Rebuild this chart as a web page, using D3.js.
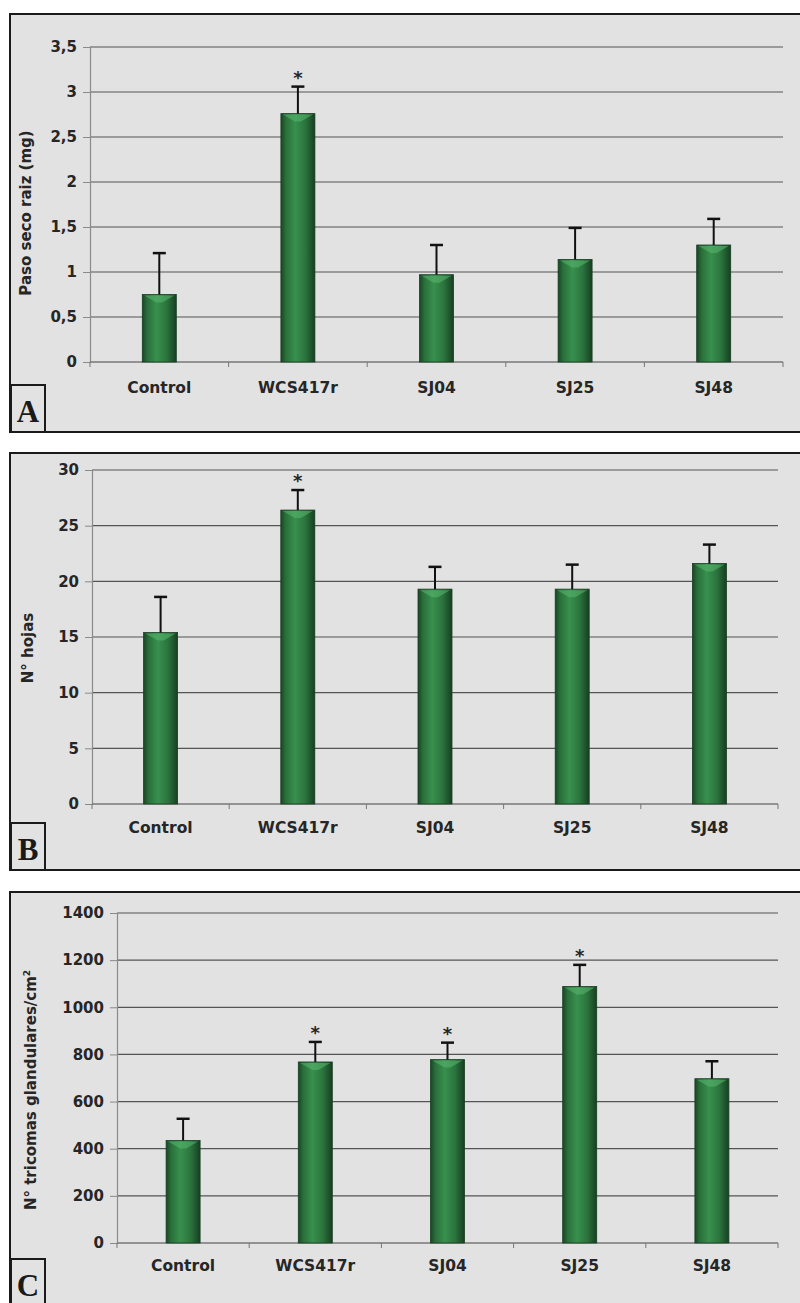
<!DOCTYPE html>
<html>
<head>
<meta charset="utf-8">
<script src="https://cdn.jsdelivr.net/npm/d3@7/dist/d3.min.js"></script>
<style>
  html, body { margin: 0; padding: 0; background: #ffffff; }
  svg { display: block; }
</style>
</head>
<body>
<svg id="fig" width="800" height="1303"></svg>
<script>
// Treatments shared by all three panels
const categories = ["Control", "WCS417r", "SJ04", "SJ25", "SJ48"];

// A: root dry weight (mg)
const rootWeight      = [0.75, 2.76, 0.97, 1.14, 1.30];
const rootWeightErr   = [0.46, 0.30, 0.33, 0.35, 0.29];
const rootWeightSig   = [false, true, false, false, false];
const rootWeightTicks = [0, 0.5, 1, 1.5, 2, 2.5, 3, 3.5];

// B: number of leaves
const leaves      = [15.4, 26.4, 19.3, 19.3, 21.6];
const leavesErr   = [3.2, 1.8, 2.0, 2.2, 1.7];
const leavesSig   = [false, true, false, false, false];
const leavesTicks = [0, 5, 10, 15, 20, 25, 30];

// C: glandular trichomes per cm²
const trichomes      = [435, 768, 778, 1088, 697];
const trichomesErr   = [92, 85, 72, 92, 74];
const trichomesSig   = [false, true, true, true, false];
const trichomesTicks = [0, 200, 400, 600, 800, 1000, 1200, 1400];

const SANS = "'DejaVu Sans', 'Liberation Sans', Arial, sans-serif";
const SERIF = "'Liberation Serif', 'DejaVu Serif', 'Times New Roman', serif";

const svg = d3.select("#fig");
const defs = svg.append("defs");

// Cylinder-like shading of the bars
const grad = defs.append("linearGradient").attr("id", "barGrad")
  .attr("x1", "0%").attr("x2", "100%").attr("y1", "0%").attr("y2", "0%");
[[0, "#1a4626"], [0.15, "#2a703b"], [0.42, "#38904e"], [0.72, "#2b743d"], [1, "#173f22"]]
  .forEach(([o, c]) => grad.append("stop").attr("offset", o).attr("stop-color", c));

const commaFmt = d => String(d).replace(".", ",");

function drawPanel(cfg) {
  const g = svg.append("g");

  // panel frame with grey fill (right side runs off the page)
  g.append("rect")
    .attr("x", cfg.frame.x).attr("y", cfg.frame.y)
    .attr("width", cfg.frame.w).attr("height", cfg.frame.h)
    .attr("fill", "#e2e2e2").attr("stroke", "#1a1a1a").attr("stroke-width", 2);

  const x = d3.scaleBand().domain(categories)
    .range([cfg.plot.left, cfg.plot.right])
    .paddingInner(0).paddingOuter(0);
  const bw = 34;
  const y = d3.scaleLinear().domain(cfg.domain)
    .range([cfg.plot.bottom, cfg.plot.top]);

  // horizontal gridlines
  g.append("g").selectAll("line").data(cfg.ticks.filter(t => t > cfg.domain[0]))
    .join("line")
    .attr("x1", cfg.plot.left).attr("x2", cfg.plot.right)
    .attr("y1", d => y(d)).attr("y2", d => y(d))
    .attr("stroke", "#555").attr("stroke-width", 1.2);

  // y axis
  const yAxis = d3.axisLeft(y).tickValues(cfg.ticks).tickSize(7).tickPadding(6)
    .tickFormat(cfg.format || (d => d));
  const ya = g.append("g").attr("transform", `translate(${cfg.plot.left},0)`).call(yAxis);
  ya.select(".domain").attr("stroke", "#8a8a8a").attr("stroke-width", 1.2);
  ya.selectAll(".tick line").attr("stroke", "#8a8a8a");
  ya.selectAll(".tick text")
    .style("font-family", SANS).style("font-size", "15px").style("font-weight", "bold")
    .attr("fill", "#262626");

  // x axis with ticks between categories
  const bounds = categories.map(c => x(c)).concat([cfg.plot.right]);
  g.append("line")
    .attr("x1", cfg.plot.left).attr("x2", cfg.plot.right)
    .attr("y1", y(0)).attr("y2", y(0))
    .attr("stroke", "#777").attr("stroke-width", 1.4);
  g.append("g").selectAll("line").data(bounds).join("line")
    .attr("x1", d => d).attr("x2", d => d)
    .attr("y1", y(0)).attr("y2", y(0) + 5)
    .attr("stroke", "#777");

  g.append("g").selectAll("text").data(categories).join("text")
    .attr("x", d => x(d) + x.bandwidth() / 2)
    .attr("y", cfg.labelY)
    .attr("text-anchor", "middle")
    .style("font-family", SANS).style("font-size", "15.5px").style("font-weight", "bold")
    .attr("fill", "#262626")
    .text(d => d);

  // bars
  const data = categories.map((c, i) => ({ c, v: cfg.values[i], e: cfg.errors[i], s: cfg.sig[i] }));
  const bars = g.append("g").selectAll("g").data(data).join("g");
  bars.append("rect")
    .attr("x", d => x(d.c) + x.bandwidth() / 2 - bw / 2)
    .attr("y", d => y(d.v))
    .attr("width", bw)
    .attr("height", d => y(0) - y(d.v))
    .attr("fill", "url(#barGrad)")
    .attr("stroke", "#173d21").attr("stroke-width", 0.8);
  // light bevel at the bar top
  bars.append("path")
    .attr("d", d => {
      const cx = x(d.c) + x.bandwidth() / 2, t = y(d.v);
      return `M${cx - bw / 2 + 2},${t + 1} L${cx + bw / 2 - 2},${t + 1} L${cx + 3},${t + 8} L${cx - 3},${t + 8} Z`;
    })
    .attr("fill", "#5ab870").attr("opacity", 0.55);

  // upper error bars
  bars.append("line")
    .attr("x1", d => x(d.c) + x.bandwidth() / 2).attr("x2", d => x(d.c) + x.bandwidth() / 2)
    .attr("y1", d => y(d.v)).attr("y2", d => y(d.v + d.e))
    .attr("stroke", "#111").attr("stroke-width", 2);
  bars.append("line")
    .attr("x1", d => x(d.c) + x.bandwidth() / 2 - 6.5).attr("x2", d => x(d.c) + x.bandwidth() / 2 + 6.5)
    .attr("y1", d => y(d.v + d.e)).attr("y2", d => y(d.v + d.e))
    .attr("stroke", "#111").attr("stroke-width", 2.5);

  // significance marks
  bars.filter(d => d.s).append("text")
    .attr("x", d => x(d.c) + x.bandwidth() / 2)
    .attr("y", d => y(d.v + d.e) - 3)
    .attr("text-anchor", "middle")
    .style("font-family", SANS).style("font-size", "18px").style("font-weight", "bold")
    .attr("fill", "#262626")
    .text("*");

  // y axis title
  const tt = g.append("text")
    .attr("transform", `translate(${cfg.titleX},${cfg.titleY}) rotate(-90)`)
    .attr("text-anchor", "middle")
    .style("font-family", SANS).style("font-size", "15px").style("font-weight", "bold")
    .attr("fill", "#262626");
  if (cfg.titleSup) {
    tt.append("tspan").text(cfg.title);
    tt.append("tspan").attr("dy", -6).style("font-size", "9px").text(cfg.titleSup);
  } else {
    tt.text(cfg.title);
  }

  // panel letter box
  g.append("rect")
    .attr("x", cfg.frame.x + 1).attr("y", cfg.letterBox.y)
    .attr("width", 34).attr("height", cfg.letterBox.h)
    .attr("fill", "#e2e2e2").attr("stroke", "#1a1a1a").attr("stroke-width", 2);
  g.append("text")
    .attr("x", cfg.frame.x + 18).attr("y", cfg.letterBox.y + 37)
    .attr("text-anchor", "middle")
    .style("font-family", SERIF).style("font-size", "31px").style("font-weight", "bold")
    .attr("fill", "#1a1a1a")
    .text(cfg.letter);
}

drawPanel({
  frame: { x: 10, y: 14, w: 800, h: 418 },
  plot: { left: 90, right: 783, top: 47, bottom: 362 },
  domain: [0, 3.5], ticks: rootWeightTicks, format: commaFmt,
  values: rootWeight, errors: rootWeightErr, sig: rootWeightSig,
  labelY: 393, title: "Paso seco raiz (mg)", titleX: 31, titleY: 213,
  letter: "A", letterBox: { y: 385, h: 47 }
});

drawPanel({
  frame: { x: 10, y: 453, w: 800, h: 417 },
  plot: { left: 92, right: 778, top: 470, bottom: 804 },
  domain: [0, 30], ticks: leavesTicks,
  values: leaves, errors: leavesErr, sig: leavesSig,
  labelY: 833, title: "N° hojas", titleX: 33, titleY: 648,
  letter: "B", letterBox: { y: 823, h: 47 }
});

drawPanel({
  frame: { x: 10, y: 892, w: 800, h: 420 },
  plot: { left: 117, right: 778, top: 913, bottom: 1243 },
  domain: [0, 1400], ticks: trichomesTicks,
  values: trichomes, errors: trichomesErr, sig: trichomesSig,
  labelY: 1271, title: "N° tricomas glandulares/cm", titleSup: "2", titleX: 36, titleY: 1090,
  letter: "C", letterBox: { y: 1259, h: 60 }
});
</script>
</body>
</html>
